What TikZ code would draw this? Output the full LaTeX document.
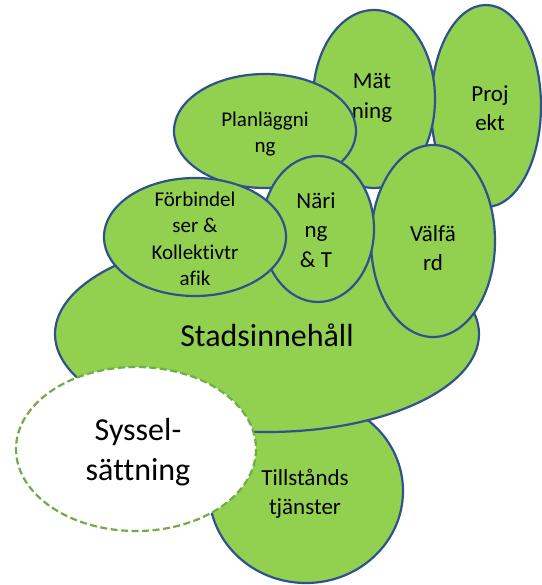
\documentclass[tikz,border=0pt]{standalone}
\usepackage{fontspec}
\setmainfont{Carlito}[Ligatures=CommonOff]
\definecolor{fillg}{HTML}{92D050}
\definecolor{edgeb}{HTML}{2F528F}
\definecolor{dashg}{HTML}{70AD47}
\begin{document}
\begin{tikzpicture}[x=1pt,y=-1pt,
  blob/.style={draw=edgeb, line width=2.2pt, fill=fillg},
  dashblob/.style={draw=dashg, line width=2.2pt, fill=white, dash pattern=on 7pt off 3.5pt},
  lbl/.style={align=center, text=black, inner sep=0pt},
  fsmall/.style={font=\fontsize{21}{26.5}\selectfont},
  fmid/.style={font=\fontsize{23}{29.5}\selectfont},
  fbig/.style={font=\fontsize{32}{40}\selectfont}]
\useasboundingbox (0,0) rectangle (541,585);
% Tillstånds
\path[blob] (306,491) ellipse [x radius=97, y radius=92];
\node[lbl,fmid] (till) at (305,494) {Tillstånds\\tjänster};
% Stadsinnehåll
\path[blob] (267,334) ellipse [x radius=212, y radius=98];
\node[lbl,fbig] (stad) at (267,335) {Stadsinnehåll};
% Projekt
\path[blob] (486,106) ellipse [x radius=55, y radius=101];
\node[lbl,fmid] (proj) at (490,108) {Proj\\ekt};
% Mätning
\path[blob] (374,99) ellipse [x radius=61, y radius=89];
\node[lbl,fmid] (mat) at (372,98) {Mät\\ning};
% Välfärd
\path[blob] (433,241) ellipse [x radius=62, y radius=96];
\node[lbl,fmid] (val) at (433,248) {Välfä\\rd};
% Planläggning
\path[blob] (265,131) ellipse [x radius=91, y radius=57];
\node[lbl,fsmall] (plan) at (265,134) {Planläggni\\ng};
% Näring
\path[blob] (318,229) ellipse [x radius=56, y radius=73];
\node[lbl,fmid] (nar) at (316,230) {Näri\\ng\\\& T};
% Förbindelser
\path[blob] (195,237) ellipse [x radius=91, y radius=59];
\node[lbl,fsmall] (forb) at (195,239) {Förbindel\\ser \&\\Kollektivtr\\afik};
% Sysselsättning
\path[dashblob] (136,449) ellipse [x radius=120, y radius=82];
\node[lbl,fbig] (syss) at (138,452) {Syssel-\\sättning};
\end{tikzpicture}
\end{document}
